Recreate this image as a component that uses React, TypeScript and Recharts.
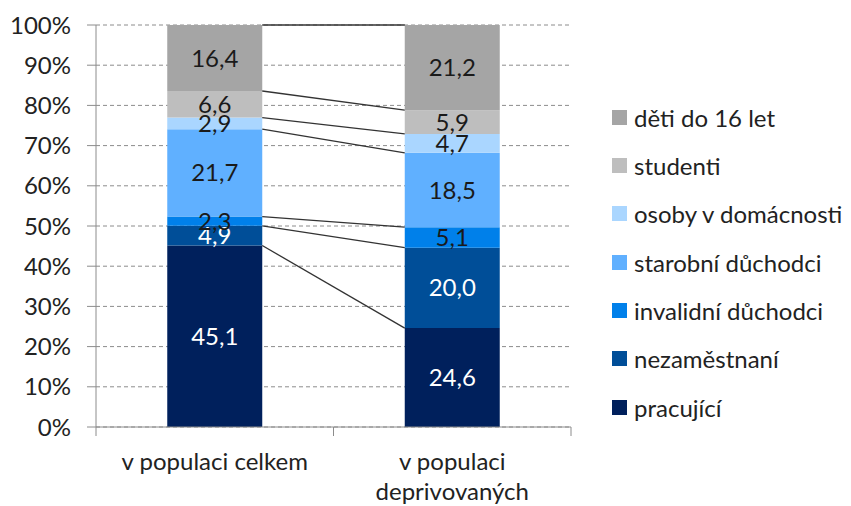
import React from 'react';
import { BarChart, Bar, XAxis, YAxis, CartesianGrid, ReferenceLine, LabelList, Legend } from 'recharts';

// ---- data ----
const categories = ['v populaci celkem', 'v populaci deprivovaných'];
const categoryLabelLines = [['v populaci celkem'], ['v populaci', 'deprivovaných']];

const pracujici = [45.1, 24.6];
const nezamestnani = [4.9, 20.0];
const invalidni = [2.3, 5.1];
const starobni = [21.7, 18.5];
const osoby = [2.9, 4.7];
const studenti = [6.6, 5.9];
const deti = [16.4, 21.2];

const seriesNames = [
  'pracující',
  'nezaměstnaní',
  'invalidní důchodci',
  'starobní důchodci',
  'osoby v domácnosti',
  'studenti',
  'děti do 16 let',
];
const seriesValues = [pracujici, nezamestnani, invalidni, starobni, osoby, studenti, deti];

const yTicks = [0, 10, 20, 30, 40, 50, 60, 70, 80, 90, 100];

// ---- styles ----
const seriesColors = ['#00205C', '#004E98', '#0080EA', '#60B0FF', '#AAD6FF', '#BEBEBE', '#A5A5A5'];
const labelColors = ['#ffffff', '#ffffff', '#1a1a1a', '#1a1a1a', '#1a1a1a', '#1a1a1a', '#1a1a1a'];
const FONT = 'Lato';
const FS = 24;
const TEXT = '#222222';
const AXIS = '#8c8c8c';
const GAP = 0.3;

const N = categories.length;
// 100% stacked: each column normalised to its total
const totals = categories.map((_, i) => seriesValues.reduce((a, v) => a + v[i], 0));

const data = categories.map((name, i) => {
  const row: any = { name };
  seriesValues.forEach((vals, k) => {
    row['s' + k] = (vals[i] / totals[i]) * 100;
    row['r' + k] = vals[i];
  });
  return row;
});

const tops = seriesValues.map((_, k) =>
  categories.map((_c, i) => {
    let s = 0;
    for (let j = 0; j <= k; j++) s += seriesValues[j][i];
    return (s / totals[i]) * 100;
  })
);

// helper axis in band units: 0..1 across the plot
const bandTicks: number[] = [];
for (let i = 0; i <= N; i++) {
  bandTicks.push(i / N);
  if (i < N) bandTicks.push((i + 0.5) / N);
}
const isBoundary = (v: number) => Math.abs(v * N - Math.round(v * N)) < 1e-6;

const fmt = (v: any) => Number(v).toFixed(1).replace('.', ',');

const CatTick = (props: any) => {
  const { x, y, payload } = props;
  const v = payload.value;
  if (isBoundary(v)) {
    return <line x1={x} x2={x} y1={y} y2={y + 9} stroke={AXIS} strokeWidth={1} />;
  }
  const idx = Math.floor(v * N);
  const lines = categoryLabelLines[idx] || [categories[idx]];
  return (
    <text x={x} y={y + 43} textAnchor="middle" fill={TEXT} fontSize={FS} fontFamily={FONT}>
      {lines.map((l, j) => (
        <tspan key={j} x={x} dy={j === 0 ? 0 : 30}>
          {l}
        </tspan>
      ))}
    </text>
  );
};

const LegendContent = () => (
  <div style={{ fontFamily: FONT, fontSize: FS, color: TEXT }}>
    {seriesNames
      .map((n, k) => ({ n, k }))
      .reverse()
      .map(({ n, k }) => (
        <div key={k} style={{ height: 48.33, display: 'flex', alignItems: 'center', whiteSpace: 'nowrap' }}>
          <span
            style={{ display: 'inline-block', width: 15, height: 15, background: seriesColors[k], marginRight: 7 }}
          />
          <span>{n}</span>
        </div>
      ))}
  </div>
);

export default function App() {
  return (
    <div style={{ position: 'absolute', left: 0, top: 0, width: 851, height: 506, background: '#fff' }}>
      <BarChart
        width={851}
        height={506}
        data={data}
        barCategoryGap={`${GAP * 100}%`}
        margin={{ top: 25, right: 280, bottom: 0, left: 0 }}
      >
        <CartesianGrid vertical={false} stroke={AXIS} strokeDasharray="4 3" />
        <XAxis dataKey="name" hide height={0} />
        <XAxis
          xAxisId="n"
          type="number"
          domain={[0, 1]}
          ticks={bandTicks}
          interval={0}
          height={79}
          allowDataOverflow
          axisLine={{ stroke: AXIS }}
          tickLine={false}
          tickSize={0}
          tickMargin={0}
          tick={<CatTick />}
        />
        <YAxis
          type="number"
          domain={[0, 100]}
          allowDataOverflow
          ticks={yTicks}
          interval={0}
          width={96}
          tickFormatter={(v: number) => `${v}%`}
          axisLine={{ stroke: AXIS }}
          tickLine={{ stroke: AXIS }}
          tickSize={9}
          tickMargin={16}
          tick={{ fill: TEXT, fontSize: FS, fontFamily: FONT }}
        />
        {seriesValues.map((_, k) => (
          <Bar key={k} dataKey={'s' + k} name={seriesNames[k]} stackId="a" fill={seriesColors[k]} isAnimationActive={false}>
            <LabelList
              dataKey={'r' + k}
              position="center"
              formatter={fmt}
              fill={labelColors[k]}
              style={{ fontSize: FS, fontFamily: FONT }}
            />
          </Bar>
        ))}
        {seriesValues.map((_, k) => (
          <ReferenceLine
            key={'l' + k}
            xAxisId="n"
            segment={[
              { x: (1 - GAP) / N, y: tops[k][0] },
              { x: (1 + GAP) / N, y: tops[k][1] },
            ]}
            stroke="#333333"
            strokeWidth={1.3}
            ifOverflow="visible"
          />
        ))}
        <Legend
          layout="vertical"
          align="center"
          verticalAlign="middle"
          wrapperStyle={{ left: 612, top: 93, width: 239 }}
          content={<LegendContent />}
        />
      </BarChart>
    </div>
  );
}
